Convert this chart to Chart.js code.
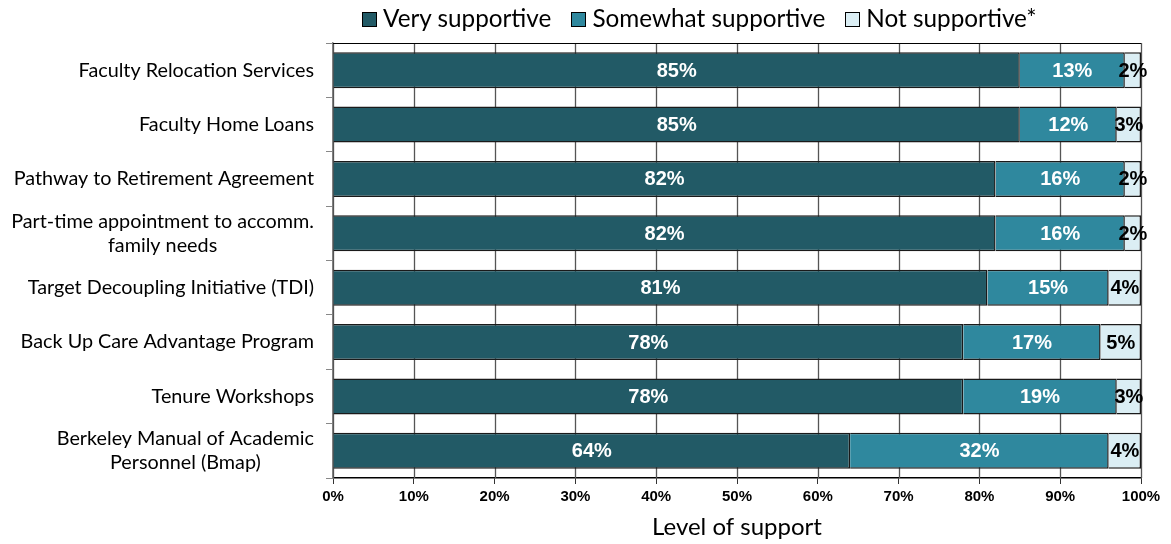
<!DOCTYPE html>
<html lang="en">
<head>
    <meta charset="UTF-8">
    <title>Level of support</title>
    <script src="https://cdn.jsdelivr.net/npm/chart.js"></script>
    <style>
        body{
            margin: 0;
            background: #fff;
        }
        #caja{
            position: relative;
            width: 1171px;
            height: 544px;
        }
        /* leyenda arriba */
        #leyenda{
            position: absolute;
            left: 362px;
            top: 1px;
            display: flex;
            font-family: Lato, sans-serif;
            font-size: 24.3px;
            line-height: 34px;
            color: #000;
            white-space: nowrap;
        }
        #leyenda span.item{
            display: flex;
            align-items: center;
            margin-right: 20px;
        }
        #leyenda span.cuadro{
            width: 13px;
            height: 13px;
            border: 1px solid #000;
            margin-right: 6px;
            margin-top: 3px;
        }
    </style>
</head>
<body>

<div id="caja">
    <canvas id="miGrafica"></canvas>
    <div id="leyenda"></div>
</div>

<script>
    // Datos
    const categorias = [
        'Faculty Relocation Services',
        'Faculty Home Loans',
        'Pathway to Retirement Agreement',
        ['Part-time appointment to accomm.', 'family needs'],
        'Target Decoupling Initiative (TDI)',
        'Back Up Care Advantage Program',
        'Tenure Workshops',
        ['Berkeley Manual of Academic', 'Personnel (Bmap)']
    ];
    const muyApoyo = [85, 85, 82, 82, 81, 78, 78, 64];
    const algoApoyo = [13, 12, 16, 16, 15, 17, 19, 32];
    const sinApoyo = [2, 3, 2, 2, 4, 5, 3, 4];
    const nombresSeries = ['Very supportive', 'Somewhat supportive', 'Not supportive*'];
    const colores = ['#225a66', '#2f889e', '#dbeef4'];
    const coloresTexto = ['#fff', '#fff', '#000'];
    const ticksX = ['0%', '10%', '20%', '30%', '40%', '50%', '60%', '70%', '80%', '90%', '100%'];

    // leyenda en html
    const ley = document.getElementById('leyenda');
    nombresSeries.forEach((n, i) => {
        const it = document.createElement('span');
        it.className = 'item';
        const c = document.createElement('span');
        c.className = 'cuadro';
        c.style.background = colores[i];
        it.appendChild(c);
        it.appendChild(document.createTextNode(n));
        ley.appendChild(it);
    });

    // lineas verticales en cada tick del eje x
    const rejilla = {
        id: 'rejilla',
        beforeDatasetsDraw(chart) {
            const ctx = chart.ctx;
            const x = chart.scales.x;
            const a = chart.chartArea;
            ctx.save();
            ctx.strokeStyle = '#555';
            ctx.lineWidth = 1.3;
            x.ticks.forEach(t => {
                const px = Math.round(x.getPixelForValue(t.value)) + 0.5;
                ctx.beginPath();
                ctx.moveTo(px, a.top);
                ctx.lineTo(px, a.bottom);
                ctx.stroke();
            });
            // borde superior del area
            ctx.strokeStyle = '#000';
            ctx.lineWidth = 1;
            ctx.beginPath();
            ctx.moveTo(a.left, a.top + 0.5);
            ctx.lineTo(a.right, a.top + 0.5);
            ctx.stroke();
            ctx.restore();
        }
    };

    // etiquetas con el porcentaje dentro de cada barra
    const etiquetasValor = {
        id: 'etiquetasValor',
        afterDatasetsDraw(chart) {
            const ctx = chart.ctx;
            ctx.save();
            ctx.font = 'bold 20px "Liberation Sans", Arial, sans-serif';
            ctx.textAlign = 'center';
            ctx.textBaseline = 'middle';
            chart.data.datasets.forEach((ds, i) => {
                const meta = chart.getDatasetMeta(i);
                ctx.fillStyle = coloresTexto[i];
                meta.data.forEach((el, j) => {
                    const p = el.getCenterPoint();
                    ctx.fillText(ds.data[j] + '%', p.x, p.y + 1);
                });
            });
            ctx.restore();
        }
    };

    // nombres de las categorias: bloque alineado a la derecha, lineas centradas
    const etiquetasY = {
        id: 'etiquetasY',
        afterDraw(chart) {
            const ctx = chart.ctx;
            const y = chart.scales.y;
            const borde = chart.chartArea.left - 19;
            const alto = 24;
            ctx.save();
            ctx.font = '19.8px Lato, sans-serif';
            ctx.fillStyle = '#000';
            ctx.textAlign = 'center';
            ctx.textBaseline = 'middle';
            categorias.forEach((c, i) => {
                const lineas = Array.isArray(c) ? c : [c];
                const ancho = Math.max(...lineas.map(l => ctx.measureText(l).width));
                const cx = borde - ancho / 2;
                const cy = y.getPixelForValue(i);
                lineas.forEach((l, k) => {
                    ctx.fillText(l, cx, cy + (k - (lineas.length - 1) / 2) * alto);
                });
            });
            ctx.restore();
        }
    };

    const config = {
        type: 'bar',
        data: {
            labels: categorias,
            datasets: [muyApoyo, algoApoyo, sinApoyo].map((d, i) => ({
                label: nombresSeries[i],
                data: d,
                backgroundColor: colores[i],
                borderColor: '#1a1a1a',
                borderWidth: 1.5,
                barPercentage: 0.66,
                categoryPercentage: 1
            }))
        },
        options: {
            indexAxis: 'y',
            responsive: true,
            maintainAspectRatio: false,
            animation: false,
            layout: {
                padding: { top: 43, right: 30, bottom: 0, left: 0 }
            },
            plugins: {
                legend: { display: false },
                tooltip: { enabled: false }
            },
            scales: {
                x: {
                    stacked: true,
                    min: 0,
                    max: 100,
                    afterFit: s => { s.height = 66; },
                    ticks: {
                        stepSize: 10,
                        maxRotation: 0,
                        padding: 4,
                        color: '#000',
                        font: { family: '"Liberation Sans", Arial, sans-serif', size: 15, weight: 'bold' },
                        callback: (v, i) => ticksX[i]
                    },
                    grid: {
                        drawOnChartArea: false,
                        drawTicks: true,
                        color: '#333',
                        lineWidth: 1,
                        tickLength: 6
                    },
                    border: { color: '#000', width: 1.5 },
                    title: {
                        display: true,
                        text: 'Level of support',
                        color: '#000',
                        font: { family: 'Lato, sans-serif', size: 24 },
                        padding: { top: 2, bottom: 2 }
                    }
                },
                y: {
                    stacked: true,
                    afterFit: s => { s.width = 333; },
                    ticks: { display: false },
                    grid: {
                        offset: true,
                        drawOnChartArea: false,
                        drawTicks: true,
                        tickLength: 7,
                        color: '#888'
                    },
                    border: { color: '#888', width: 1.5 }
                }
            }
        },
        plugins: [rejilla, etiquetasValor, etiquetasY]
    };

    const ctx = document.getElementById('miGrafica').getContext('2d');
    new Chart(ctx, config);
</script>

</body>
</html>
